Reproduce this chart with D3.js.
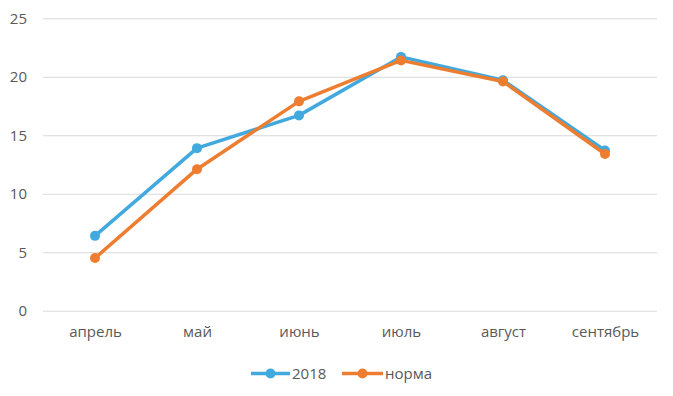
<!DOCTYPE html>
<html><head><meta charset="utf-8">
<script src="https://cdn.jsdelivr.net/npm/d3@7"></script>
<style>body{margin:0;background:#fff}svg{display:block}</style>
</head><body>
<svg id="c" width="673" height="396"></svg>
<script>
const categories = ["апрель","май","июнь","июль","август","сентябрь"];
const series2018 = [6.4, 13.9, 16.7, 21.7, 19.7, 13.7];
const seriesNorm = [4.5, 12.1, 17.9, 21.4, 19.6, 13.4];
const yTicks = [0,5,10,15,20,25];
const seriesNames = ["2018","норма"];
const colors = ["#41A9DD","#ED7D31"];

(function(){
const svg = d3.select("#c");
const font = "'Open Sans', sans-serif";
const fs = "15px";
const pLeft = 43, pRight = 657, pTop = 18.3, pBottom = 310.7;
const x = d3.scalePoint().domain(categories).range([95, 605]);
const y = d3.scaleLinear().domain([0,25]).range([pBottom, pTop]);

const yAxis = d3.axisLeft(y).tickValues(yTicks).tickSize(-(pRight-pLeft)).tickPadding(16);
const gy = svg.append("g").attr("transform",`translate(${pLeft},0)`).call(yAxis);
gy.select(".domain").remove();
gy.selectAll("line").attr("stroke","#D9D9D9").attr("stroke-width",1);
gy.selectAll("text").attr("fill","#595959").style("font-family",font).style("font-size",fs);

const xAxis = d3.axisBottom(x).tickSize(0).tickPadding(16);
const gx = svg.append("g").attr("transform",`translate(0,${pBottom})`).call(xAxis);
gx.select(".domain").remove();
gx.selectAll("text").attr("fill","#595959").style("font-family",font).style("font-size",fs);

const line = d3.line().x((d,i)=>x(categories[i])).y(d=>y(d));
[series2018, seriesNorm].forEach((s,k)=>{
  svg.append("path").datum(s).attr("d",line).attr("fill","none")
    .attr("stroke",colors[k]).attr("stroke-width",3.5).attr("stroke-linejoin","round");
  svg.selectAll(null).data(s).enter().append("circle")
    .attr("cx",(d,i)=>x(categories[i])).attr("cy",d=>y(d)).attr("r",5).attr("fill",colors[k]);
});

const leg = [{x0:251,x1:290,tx:292},{x0:342,x1:383,tx:385}];
leg.forEach((l,k)=>{
  const ly = 373.5;
  svg.append("line").attr("x1",l.x0).attr("x2",l.x1).attr("y1",ly).attr("y2",ly)
    .attr("stroke",colors[k]).attr("stroke-width",3.5);
  svg.append("circle").attr("cx",(l.x0+l.x1)/2).attr("cy",ly).attr("r",5).attr("fill",colors[k]);
  svg.append("text").attr("x",l.tx).attr("y",ly+5).text(seriesNames[k])
    .attr("fill","#595959").style("font-family",font).style("font-size",fs);
});
})();
</script>
</body></html>
